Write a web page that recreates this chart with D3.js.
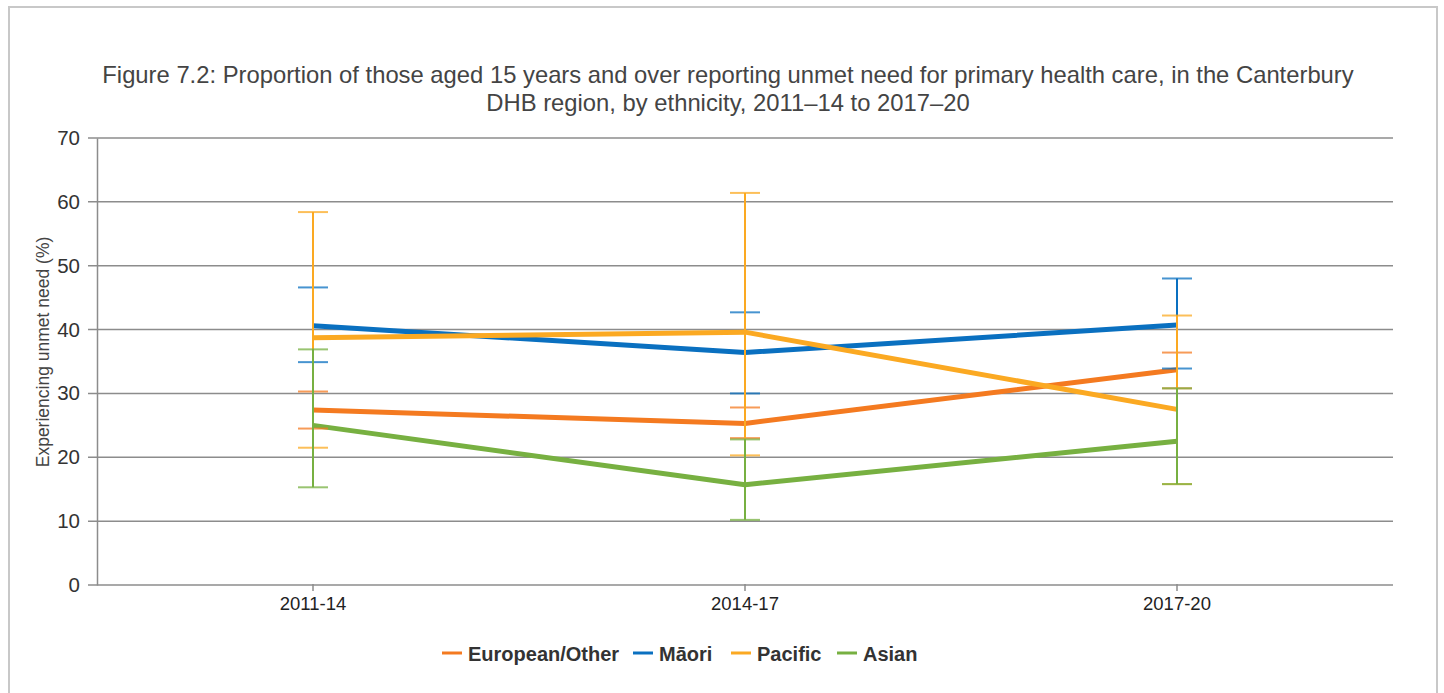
<!DOCTYPE html>
<html>
<head>
<meta charset="utf-8">
<script src="https://cdn.jsdelivr.net/npm/d3@7"></script>
<style>
  body { margin: 0; background: #fff; }
  svg { font-family: "Liberation Sans", Arial, sans-serif; }
</style>
</head>
<body>
<div id="chart"></div>
<script>
// Data
var periods = ["2011-14", "2014-17", "2017-20"];
var seriesNames = ["European/Other", "Māori", "Pacific", "Asian"];
var colors = ["#f47a20", "#0a70c0", "#fba922", "#77b041"];

var europeanVals = [27.4, 25.3, 33.7];
var europeanLow = [24.5, 23.0, 30.8];
var europeanHigh = [30.3, 27.8, 36.4];

var maoriVals = [40.6, 36.4, 40.7];
var maoriLow = [34.9, 30.0, 33.9];
var maoriHigh = [46.6, 42.7, 48.0];

var pacificVals = [38.7, 39.6, 27.5];
var pacificLow = [21.5, 20.3, 15.8];
var pacificHigh = [58.4, 61.4, 42.2];

var asianVals = [25.0, 15.7, 22.5];
var asianLow = [15.3, 10.2, 15.8];
var asianHigh = [36.9, 22.8, 30.8];

var yTicks = [0, 10, 20, 30, 40, 50, 60, 70];

var width = 1444, height = 693;

var series = [
  { name: seriesNames[0], color: colors[0], vals: europeanVals, lo: europeanLow, hi: europeanHigh },
  { name: seriesNames[1], color: colors[1], vals: maoriVals, lo: maoriLow, hi: maoriHigh },
  { name: seriesNames[2], color: colors[2], vals: pacificVals, lo: pacificLow, hi: pacificHigh },
  { name: seriesNames[3], color: colors[3], vals: asianVals, lo: asianLow, hi: asianHigh }
];

var svg = d3.select("#chart").append("svg")
  .attr("width", width)
  .attr("height", height);

// outer frame
svg.append("rect")
  .attr("x", 9).attr("y", 7)
  .attr("width", 1428).attr("height", 700)
  .attr("fill", "#fff")
  .attr("stroke", "#c8c8c8")
  .attr("stroke-width", 2);

// title
var title = svg.append("text")
  .attr("text-anchor", "middle")
  .attr("fill", "#444")
  .style("font-size", "23.8px");
title.append("tspan").attr("x", 728).attr("y", 83)
  .text("Figure 7.2: Proportion of those aged 15 years and over reporting unmet need for primary health care, in the Canterbury");
title.append("tspan").attr("x", 728).attr("y", 111)
  .text("DHB region, by ethnicity, 2011–14 to 2017–20");

// plot area edges
var plotLeft = 97, plotRight = 1393, plotTop = 138, plotBottom = 585;

var x = d3.scaleBand().domain(periods).range([plotLeft, plotRight]);
var y = d3.scaleLinear().domain([0, 70]).range([plotBottom, plotTop]);

// gridlines
svg.append("g")
  .selectAll("line")
  .data(yTicks)
  .enter()
  .append("line")
  .attr("x1", plotLeft - 9)
  .attr("x2", plotRight)
  .attr("y1", function (d) { return y(d); })
  .attr("y2", function (d) { return y(d); })
  .attr("stroke", "#8c8c8c")
  .attr("stroke-width", 1.5);

// y axis
var yAxis = d3.axisLeft(y).tickValues(yTicks).tickSize(0).tickPadding(17);
var yG = svg.append("g")
  .attr("transform", "translate(" + plotLeft + ",0)")
  .call(yAxis);
yG.select(".domain").attr("stroke", "#8c8c8c").attr("stroke-width", 1.5);
yG.selectAll("text")
  .attr("fill", "#333")
  .style("font-size", "20.5px")
  .style("font-family", "Liberation Sans, Arial, sans-serif");

// x axis
var xAxis = d3.axisBottom(x).tickSize(6).tickPadding(6);
var xG = svg.append("g")
  .attr("transform", "translate(0," + plotBottom + ")")
  .call(xAxis);
xG.select(".domain").remove();
xG.selectAll("line").attr("stroke", "#8c8c8c").attr("stroke-width", 1.5).attr("y1", -1);
xG.selectAll("text")
  .attr("fill", "#222")
  .style("font-size", "18.5px")
  .style("font-family", "Liberation Sans, Arial, sans-serif");

// y axis title
svg.append("text")
  .attr("transform", "translate(49," + 352 + ")rotate(-90)")
  .attr("text-anchor", "middle")
  .attr("fill", "#444")
  .style("font-size", "17.5px")
  .text("Experiencing unmet need (%)");

function cx(i) {
  return x(periods[i]) + x.bandwidth() / 2;
}

// series lines
var line = d3.line()
  .x(function (d, i) { return cx(i); })
  .y(function (d) { return y(d); });

series.forEach(function (s) {
  svg.append("path")
    .datum(s.vals)
    .attr("d", line)
    .attr("fill", "none")
    .attr("stroke", s.color)
    .attr("stroke-width", 5)
    .attr("stroke-linejoin", "round");
});

// error bars on top
series.forEach(function (s) {
  var g = svg.append("g");
  periods.forEach(function (p, i) {
    g.append("line")
      .attr("x1", cx(i)).attr("x2", cx(i))
      .attr("y1", y(s.hi[i])).attr("y2", y(s.lo[i]))
      .attr("stroke", s.color)
      .attr("stroke-width", 2);
    [s.hi[i], s.lo[i]].forEach(function (v) {
      g.append("line")
        .attr("x1", cx(i) - 15).attr("x2", cx(i) + 15)
        .attr("y1", y(v)).attr("y2", y(v))
        .attr("stroke", s.color)
        .attr("stroke-opacity", 0.75)
        .attr("stroke-width", 2);
    });
  });
});

// legend
var legendX = [442, 633, 731, 837];
var legend = svg.append("g");
series.forEach(function (s, i) {
  legend.append("line")
    .attr("x1", legendX[i]).attr("x2", legendX[i] + 20)
    .attr("y1", 653).attr("y2", 653)
    .attr("stroke", s.color)
    .attr("stroke-width", 3);
  legend.append("text")
    .attr("x", legendX[i] + 26)
    .attr("y", 661)
    .attr("fill", "#333")
    .style("font-size", "20px")
    .style("font-weight", "bold")
    .text(s.name);
});
</script>
</body>
</html>
